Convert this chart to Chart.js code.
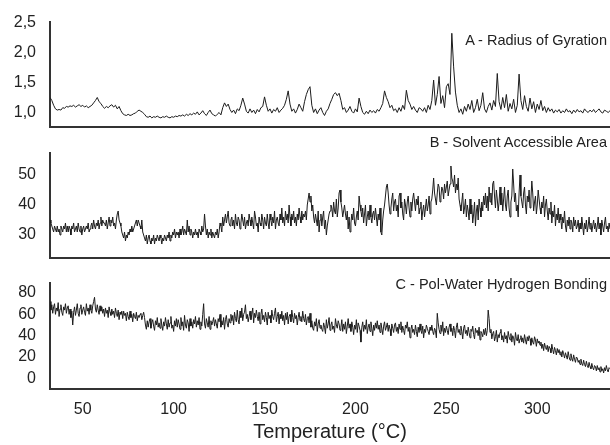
<!DOCTYPE html>
<html>
<head>
<meta charset="utf-8">
<script src="https://cdn.jsdelivr.net/npm/chart.js@4.4.1/dist/chart.umd.min.js"></script>
<style>
  html, body { margin: 0; padding: 0; background: #fff; }
  #wrap { position: relative; width: 610px; height: 445px; overflow: hidden; font-family: "Liberation Sans", Arial, sans-serif; }
  canvas { position: absolute; left: 0; }
  .plabel { position: absolute; right: 3px; font-size: 14.5px; color: #222; white-space: nowrap; line-height: 1; z-index: 5; }
</style>
</head>
<body>
<div id="wrap">
  <canvas id="cA" width="610" height="130" style="top:0px"></canvas>
  <canvas id="cB" width="610" height="130" style="top:130px"></canvas>
  <canvas id="cC" width="610" height="185" style="top:260px"></canvas>
  <div class="plabel" id="lA" style="top:33px"></div>
  <div class="plabel" id="lB" style="top:135px"></div>
  <div class="plabel" id="lC" style="top:277px"></div>
</div>
<script>
// ---- data (temperature in °C) ----
const T_START = 32;
const T_END = 340;
const STEP_A = 1;     // radius of gyration: one reading per degree
const STEP_BC = 0.5;  // SASA and H-bonds: one reading per half degree
const X_TICKS = [50, 100, 150, 200, 250, 300];
const X_TITLE = "Temperature (°C)";

const PANEL_LABELS = ["A - Radius of Gyration", "B - Solvent Accessible Area", "C - Pol-Water Hydrogen Bonding"];

const A_TICKS = [1.0, 1.5, 2.0, 2.5];
const A_TICK_LABELS = ["1,0", "1,5", "2,0", "2,5"];
const B_TICKS = [30, 40, 50];
const B_TICK_LABELS = ["30", "40", "50"];
const C_TICKS = [0, 20, 40, 60, 80];
const C_TICK_LABELS = ["0", "20", "40", "60", "80"];

const radiusOfGyration = [
  1.25,1.2,1.12,1.06,1.04,1.05,1.04,1.08,1.07,1.1,
  1.09,1.11,1.1,1.12,1.09,1.11,1.13,1.1,1.12,1.09,
  1.11,1.08,1.1,1.12,1.16,1.2,1.25,1.18,1.15,1.1,
  1.07,1.1,1.08,1.11,1.13,1.09,1.12,1.06,1.1,1.03,
  0.98,0.96,0.95,0.97,0.95,0.96,0.98,0.99,1.02,1.04,
  1.02,1.0,0.97,0.93,0.92,0.94,0.91,0.93,0.92,0.94,
  0.92,0.91,0.93,0.92,0.94,0.92,0.91,0.93,0.92,0.94,
  0.93,0.95,0.94,0.96,0.94,0.97,0.95,0.98,0.96,0.99,
  0.97,1.01,0.96,0.99,1.03,0.98,0.95,1.0,1.04,0.98,
  0.96,0.94,0.97,1.0,0.96,1.08,1.16,1.1,1.14,1.05,
  1.0,1.04,0.98,1.06,1.03,1.12,1.24,1.14,1.02,0.99,
  1.06,1.0,1.04,0.98,1.05,1.01,1.08,1.1,1.26,1.12,
  1.02,1.06,0.99,1.05,1.02,1.08,1.0,1.04,1.07,1.12,
  1.22,1.36,1.14,1.02,1.06,0.99,1.05,1.14,1.08,1.02,
  1.18,1.3,1.38,1.43,1.12,1.0,1.06,0.98,1.04,1.08,
  1.0,0.95,1.02,1.06,1.15,1.22,1.3,1.33,1.28,1.32,
  1.2,1.05,1.08,1.0,1.04,1.1,1.02,0.99,1.06,1.01,
  1.24,1.1,1.0,0.97,1.02,0.98,1.04,1.0,1.03,0.99,
  1.05,1.02,1.08,1.15,1.36,1.25,1.18,1.08,1.12,1.03,
  1.06,1.0,1.08,1.02,1.12,1.05,1.37,1.2,1.14,1.05,
  1.1,1.04,1.0,1.08,1.06,1.02,1.08,1.0,1.12,1.05,
  1.2,1.54,1.12,1.3,1.6,1.15,1.28,1.08,1.43,1.48,
  1.3,2.32,1.76,1.34,1.12,1.0,1.06,0.97,1.1,1.02,
  1.14,1.05,1.2,1.0,1.08,1.22,1.03,1.12,1.33,1.06,
  1.0,1.1,1.16,1.04,1.2,1.1,1.65,1.18,1.05,1.25,
  1.08,1.3,1.02,1.15,1.06,1.22,1.0,1.12,1.64,1.2,
  1.05,1.28,1.1,1.02,1.24,1.06,1.18,1.0,1.14,1.05,
  1.2,1.03,1.1,1.0,1.08,1.02,1.06,0.99,1.04,1.01,
  1.05,0.99,1.03,1.0,1.06,1.01,1.03,0.98,1.04,1.0,
  1.05,1.01,1.03,0.99,1.06,1.02,1.0,1.04,1.01,1.05,
  1.0,1.03,1.06,1.01,0.99,1.04,1.02,1.0,1.03
];

const solventAccessibleArea = [
  35,34,33,32,31,33,32,31,33,31, 32,30,33,32,31,33,32,34,31,33,
  31,33,32,30,33,32,34,31,32,33, 31,34,32,31,33,30,32,33,31,32,
  33,32,34,31,32,33,34,32,35,33, 32,34,33,35,32,34,36,33,35,34,
  34,33,35,32,34,36,33,35,34,36, 33,34,32,35,37,38,35,34,33,31,
  30,29,31,28,30,29,31,30,32,31, 33,31,32,33,34,35,33,35,34,33,
  32,35,31,30,29,28,30,27,29,30, 28,27,29,28,30,27,29,28,30,29,
  28,30,29,27,29,28,30,29,28,30, 29,31,28,30,29,31,30,32,29,31,
  30,31,29,32,30,31,33,30,32,31, 30,35,31,33,30,32,31,29,31,30,
  32,30,31,29,32,31,30,33,31,32, 37,33,30,32,29,31,30,32,29,31,
  30,29,31,30,32,29,31,34,33,31, 36,33,35,37,34,36,38,34,33,35,
  36,33,35,32,37,34,33,36,35,32, 34,37,35,33,36,32,34,35,33,37,
  35,33,36,34,32,38,36,33,34,31, 36,34,33,37,35,32,36,34,33,37,
  34,32,37,35,33,36,34,38,32,35, 36,34,33,37,35,39,34,36,33,38,
  35,37,34,40,36,33,37,35,38,34, 36,33,37,35,39,36,34,38,35,37,
  36,38,35,40,42,44,41,43,38,40, 36,34,37,35,33,38,31,35,37,33,
  36,38,32,35,30,33,35,37,38,40, 39,36,41,38,37,42,36,39,44,45,
  41,39,36,38,40,37,35,38,32,36, 31,34,37,35,39,34,33,36,38,35,
  43,40,38,36,39,34,37,40,33,36, 38,35,40,36,34,37,38,35,39,36,
  33,37,35,39,31,30,35,38,40,43, 46,47,44,40,37,39,42,44,38,41,
  42,38,40,36,43,44,39,41,37,35, 42,40,37,41,43,39,36,41,38,42,
  44,41,38,42,40,43,37,39,41,35, 38,40,36,39,42,38,40,43,37,41,
  42,45,49,44,42,40,44,47,46,41, 43,46,45,42,47,44,46,48,43,45,
  47,53,49,48,46,50,44,47,45,49, 42,40,38,41,44,37,39,42,36,40,
  38,35,42,37,40,34,37,41,33,38, 40,35,42,39,36,41,38,43,40,44,
  39,43,38,46,41,44,40,47,48,43, 39,45,42,38,41,46,40,44,38,42,
  46,40,38,43,45,39,36,41,43,52, 47,41,44,38,40,36,44,50,43,41,
  39,44,46,40,37,43,41,45,39,42, 48,44,38,41,43,37,40,45,42,39,
  37,41,39,43,36,40,42,38,35,39, 37,41,34,38,36,40,33,37,35,39,
  34,37,35,32,36,34,38,33,31,35, 33,36,32,35,34,31,36,33,35,32,
  33,35,31,34,32,36,33,30,34,32, 35,31,33,36,32,34,31,33,35,32,
  34,31,33,36,32,34,30,35,33,31, 34,36,32,33,31,34,32
];

const polWaterHBonds = [
  72,64,69,61,67,70,60,66,63,71, 58,65,69,62,59,67,64,70,61,66,
  68,60,65,57,63,50,62,67,59,64, 70,61,58,66,69,60,64,67,62,59,
  70,63,66,60,69,64,61,68,72,76, 65,62,69,64,60,68,63,67,61,65,
  58,66,61,64,57,67,62,59,65,60, 63,57,66,61,58,64,55,62,60,63,
  56,63,59,61,54,62,58,55,63,57, 60,53,61,58,56,62,54,59,57,60,
  61,55,59,62,57,50,46,54,48,53, 56,47,52,55,49,45,54,50,57,48,
  52,47,56,50,45,53,49,57,51,46, 55,48,52,58,47,50,44,54,49,56,
  48,55,51,46,57,49,53,45,59,50, 47,55,52,44,56,49,53,47,55,51,
  58,48,54,50,57,46,53,49,60,70, 51,47,56,52,48,58,46,54,50,53,
  57,49,55,51,47,56,53,60,48,54, 50,57,46,55,59,51,48,56,52,60,
  54,59,50,62,56,53,64,55,51,63, 57,66,54,60,62,69,56,60,53,58,
  63,55,60,66,52,61,57,64,58,54, 62,51,60,65,55,59,53,62,57,50,
  62,56,59,52,64,58,55,61,66,53, 58,62,51,60,56,63,54,59,50,61,
  55,62,51,58,60,53,64,57,52,61, 56,59,50,57,62,54,58,53,63,56,
  53,60,50,56,58,52,61,48,54,47, 45,53,49,56,44,51,55,47,50,46,
  44,52,48,42,55,47,51,57,45,50, 53,46,49,43,56,50,47,54,51,45,
  48,55,44,51,46,53,42,49,56,47, 51,44,53,48,41,50,46,55,43,52,
  49,45,34,48,53,44,50,46,55,42, 48,51,44,53,47,40,50,45,52,47,
  54,46,50,43,52,47,41,49,53,45, 48,52,44,50,46,40,51,47,43,50,
  52,44,48,42,51,46,53,43,49,45, 41,50,47,53,44,48,38,46,50,43,
  46,41,50,44,39,48,43,51,45,42, 49,38,46,43,50,47,44,41,48,45,
  50,44,41,47,45,38,61,52,46,42, 50,44,53,40,47,43,49,45,41,48,
  51,44,47,40,49,45,38,48,52,43, 46,41,49,44,37,47,50,42,45,40,
  48,43,38,46,44,49,41,37,47,43, 45,40,48,36,44,42,39,46,41,47,
  40,45,64,56,43,46,37,42,44,35, 39,45,34,41,38,43,46,36,40,34,
  43,37,40,33,44,39,36,42,34,40, 38,31,43,37,35,41,33,37,40,34,
  38,33,41,36,32,39,35,40,37,31, 38,34,32,39,36,30,37,33,35,31,
  34,28,32,26,33,29,27,31,25,30, 28,24,32,27,23,29,26,22,28,24,
  27,22,25,20,26,23,19,24,21,18, 25,20,17,23,19,16,22,18,15,20,
  19,15,17,13,18,14,12,17,13,11, 16,12,10,15,11,9,14,10,8,12,
  11,7,12,8,10,6,11,7,9,5, 10,7,12,8,6,10,9
];

// ---- rendering ----
document.getElementById('lA').textContent = PANEL_LABELS[0];
document.getElementById('lB').textContent = PANEL_LABELS[1];
document.getElementById('lC').textContent = PANEL_LABELS[2];

const FONT = "'Liberation Sans', Arial, sans-serif";
const TEXT = '#222';
const AXIS = '#333';

function toPoints(vals, step) {
  return vals.map((v, i) => ({ x: T_START + i * step, y: v }));
}

function makePanel(id, values, step, yMin, yMax, yTicks, yLabels, pad, showX) {
  const xScale = {
    type: 'linear', min: T_START, max: T_END,
    grid: { display: false, drawTicks: false },
    border: { display: true, color: AXIS, width: 2 },
    afterBuildTicks: s => { s.ticks = X_TICKS.map(v => ({ value: v })); },
    afterFit: s => {
      s.height = showX ? 56 : 0;
      s.paddingLeft = 0; s.paddingRight = 0;
    },
    ticks: {
      display: showX, padding: 11, color: TEXT, maxRotation: 0, autoSkip: false,
      font: { family: FONT, size: 16 }
    },
    title: {
      display: showX, text: X_TITLE, color: TEXT,
      font: { family: FONT, size: 20 }, padding: { top: 4, bottom: 1 }
    }
  };
  const yScale = {
    type: 'linear', min: yMin, max: yMax,
    grid: { display: false, drawTicks: false },
    border: { display: true, color: AXIS, width: 2 },
    afterBuildTicks: s => { s.ticks = yTicks.map(v => ({ value: v })); },
    afterFit: s => {
      s.width = 50;
      s.paddingTop = 0; s.paddingBottom = 0;
    },
    ticks: {
      padding: 14, color: TEXT, autoSkip: false,
      font: { family: FONT, size: 16 },
      callback: (val) => {
        const k = yTicks.findIndex(t => Math.abs(t - val) < 1e-9);
        return k >= 0 ? yLabels[k] : '';
      }
    }
  };
  return new Chart(document.getElementById(id), {
    type: 'line',
    data: {
      datasets: [{
        data: toPoints(values, step),
        borderColor: '#1c1c1c',
        borderWidth: 1,
        pointRadius: 0,
        tension: 0,
        fill: false
      }]
    },
    options: {
      responsive: false,
      animation: false,
      devicePixelRatio: 1,
      layout: { padding: pad },
      plugins: { legend: { display: false }, tooltip: { enabled: false } },
      scales: { x: xScale, y: yScale }
    }
  });
}

makePanel('cA', radiusOfGyration, STEP_A, 0.758, 2.508, A_TICKS, A_TICK_LABELS,
  { top: 22, bottom: 3, left: 0, right: 0 }, false);
makePanel('cB', solventAccessibleArea, STEP_BC, 22.33, 57.33, B_TICKS, B_TICK_LABELS,
  { top: 23, bottom: 2, left: 0, right: 0 }, false);
makePanel('cC', polWaterHBonds, STEP_BC, -10, 89.4, C_TICKS, C_TICK_LABELS,
  { top: 23, bottom: 0, left: 0, right: 0 }, true);
</script>
</body>
</html>
